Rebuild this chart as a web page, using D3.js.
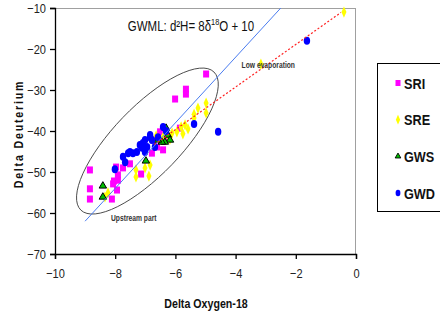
<!DOCTYPE html>
<html>
<head>
<meta charset="utf-8">
<script src="https://cdn.jsdelivr.net/npm/d3@7"></script>
<style>
  body { margin: 0; background: #fff; }
  text { font-family: "Liberation Sans", Arial, sans-serif; }
</style>
</head>
<body>
<div id="chart"></div>
<script>
// data
var sriX = [-8.84, -8.84, -8.84, -8.11, -7.94, -8.07, -8.04, -7.91, -7.91, -7.97, -7.74, -7.51, -7.14,
  -6.78, -6.41, -4.98, -5.65, -5.65, -6.01, -5.85, -6.51, -6.61, -6.38, -6.74];
var sriY = [-49.5, -54.1, -56.6, -56.6, -54.4, -52.9, -52.2, -52.0, -50.7, -48.8, -49.0, -48.0, -50.5,
  -45.4, -44.6, -26.1, -29.8, -31.0, -32.2, -39.3, -40.2, -43.9, -42.4, -42.2];

var sreX = [-0.40, -3.16, -4.98, -5.25, -4.98, -5.38, -5.38, -5.68, -5.81, -5.95, -6.11, -6.25, -6.41,
  -6.64, -7.31, -7.31, -6.84, -6.88, -8.24, -8.34, -7.01, -5.58, -5.75, -6.18];
var sreY = [-11.0, -23.7, -33.2, -34.4, -35.6, -35.9, -36.8, -38.5, -39.0, -40.2, -40.5, -41.0, -41.5,
  -41.2, -49.5, -51.2, -48.3, -51.0, -55.1, -56.1, -49.0, -39.5, -40.7, -42.0];

var gwsX = [-8.41, -8.41, -6.98, -6.31, -6.25, -6.18, -6.35, -6.45, -6.58];
var gwsY = [-53.4, -56.1, -47.3, -39.3, -41.0, -42.2, -42.7, -42.7, -42.2];

var gwdX = [-1.63, -4.58, -5.38, -6.41, -6.31, -6.84, -7.08, -6.94, -7.18, -7.11, -6.78, -6.68, -7.41,
  -7.51, -7.74, -7.67, -8.01, -7.57, -7.28, -7.01, -6.84, -6.58, -7.01];
var gwdY = [-18.0, -40.2, -38.3, -39.0, -40.0, -41.0, -42.9, -43.9, -43.4, -44.1, -42.2, -43.9, -45.4,
  -45.1, -46.3, -47.6, -49.3, -45.4, -45.1, -45.1, -41.5, -41.5, -42.2];

// GWML line ends and low evaporation line ends
var gwmlX = [-9, -2.5];
var gwmlY = [-62, -10];
var evapX = [-6.7, -0.5];
var evapY = [-43.3, -11.1];

// ellipse tips (major axis) for "upstream part"
var ellTipX = [-4.72, -9.14];
var ellTipY = [-25.6, -59.3];

var xTicks = [-10, -8, -6, -4, -2, 0];
var yTicks = [-10, -20, -30, -40, -50, -60, -70];
var seriesNames = ["SRI", "SRE", "GWS", "GWD"];

var svgWidth = 440;
var svgHeight = 311;
var margin = { top: 8, right: 84, bottom: 57, left: 55 };
var width = svgWidth - margin.left - margin.right;
var height = svgHeight - margin.top - margin.bottom;

// the original uses a narrow face, so squeeze the regular one
var squeeze = 0.82;

var svg = d3.select("#chart").append("svg")
  .attr("width", svgWidth)
  .attr("height", svgHeight);

var chartGroup = svg.append("g")
  .attr("transform", `translate(${margin.left}, ${margin.top})`);

function narrowText(parent, px, py, str) {
  return parent.append("g")
    .attr("transform", `translate(${px}, ${py})`)
    .append("text")
    .attr("transform", `scale(${squeeze}, 1)`)
    .text(str);
}

var x = d3.scaleLinear().domain([-10, 0]).range([0, width]);
var y = d3.scaleLinear().domain([-70, -10]).range([height, 0]);

// frame: grey top and right
chartGroup.append("line")
  .attr("x1", 0).attr("x2", width).attr("y1", 0.5).attr("y2", 0.5)
  .attr("stroke", "#a0a0a0");
chartGroup.append("line")
  .attr("x1", width - 0.5).attr("x2", width - 0.5).attr("y1", 0).attr("y2", height)
  .attr("stroke", "#a0a0a0");

var bottomAxis = d3.axisBottom(x).tickValues(xTicks).tickSize(5).tickPadding(9).tickFormat(d3.format("d"));
var leftAxis = d3.axisLeft(y).tickValues(yTicks).tickSize(5).tickPadding(4).tickFormat(d3.format("d"));

var xAxis = chartGroup.append("g")
  .attr("transform", `translate(0, ${height})`)
  .call(bottomAxis);
var yAxis = chartGroup.append("g").call(leftAxis);

[xAxis, yAxis].forEach(function(ax) {
  ax.select(".domain").attr("stroke", "#000").attr("stroke-width", 1.3);
  ax.selectAll(".tick line").attr("stroke", "#000").attr("stroke-width", 1.3);
  ax.selectAll("text")
    .attr("font-size", 13.5)
    .attr("fill", "#222")
    .attr("transform", `scale(${squeeze}, 1)`)
    .style("font-family", '"Liberation Sans", Arial, sans-serif');
});
// the left labels sit at x=-9 before squeezing; keep them 9px off the axis
yAxis.selectAll(".tick text").attr("x", -9 / squeeze);

// ellipse around upstream points
var t1 = [x(ellTipX[0]), y(ellTipY[0])];
var t2 = [x(ellTipX[1]), y(ellTipY[1])];
var ecx = (t1[0] + t2[0]) / 2, ecy = (t1[1] + t2[1]) / 2;
var ea = Math.hypot(t1[0] - t2[0], t1[1] - t2[1]) / 2;
var eAngle = Math.atan2(t1[1] - t2[1], t1[0] - t2[0]) * 180 / Math.PI;
chartGroup.append("ellipse")
  .attr("cx", 0).attr("cy", 0)
  .attr("rx", ea).attr("ry", 34)
  .attr("transform", `translate(${ecx}, ${ecy}) rotate(${eAngle})`)
  .attr("fill", "none")
  .attr("stroke", "#444")
  .attr("stroke-width", 0.9);

// series
function pts(xs, ys) { return xs.map(function(v, i) { return { x: v, y: ys[i] }; }); }

chartGroup.append("g").selectAll("rect")
  .data(pts(sriX, sriY))
  .enter()
  .append("rect")
  .attr("x", d => x(d.x) - 3)
  .attr("y", d => y(d.y) - 3.5)
  .attr("width", 6)
  .attr("height", 7)
  .attr("fill", "#ff00ff");

var diamond = d3.symbol().type(d3.symbolDiamond).size(30);
chartGroup.append("g").selectAll("path")
  .data(pts(sreX, sreY))
  .enter()
  .append("path")
  .attr("d", diamond)
  .attr("transform", d => `translate(${x(d.x)}, ${y(d.y)}) scale(0.85, 1.1)`)
  .attr("fill", "#ffff00");

var tri = d3.symbol().type(d3.symbolTriangle).size(24);
chartGroup.append("g").selectAll("path")
  .data(pts(gwsX, gwsY))
  .enter()
  .append("path")
  .attr("d", tri)
  .attr("transform", d => `translate(${x(d.x)}, ${y(d.y)})`)
  .attr("fill", "#00c000")
  .attr("stroke", "#000")
  .attr("stroke-width", 1);

chartGroup.append("g").selectAll("ellipse")
  .data(pts(gwdX, gwdY))
  .enter()
  .append("ellipse")
  .attr("cx", d => x(d.x))
  .attr("cy", d => y(d.y))
  .attr("rx", 3.2)
  .attr("ry", 4)
  .attr("fill", "#0000ff");

// lines
var line = d3.line().x(d => x(d.x)).y(d => y(d.y));
chartGroup.append("path")
  .datum(pts(gwmlX, gwmlY))
  .attr("d", line)
  .attr("fill", "none")
  .attr("stroke", "#4a7cf0")
  .attr("stroke-width", 1);
chartGroup.append("path")
  .datum(pts(evapX, evapY))
  .attr("d", line)
  .attr("fill", "none")
  .attr("stroke", "#ff2020")
  .attr("stroke-width", 1.2)
  .attr("stroke-dasharray", "2,2");

// annotations
var eq = narrowText(chartGroup, x(-7.58), y(-15.6), "")
  .attr("font-size", 14)
  .attr("fill", "#111");
eq.append("tspan").text("GWML: d²H= 8δ");
eq.append("tspan").attr("dy", -6).attr("font-size", 9).text("18");
eq.append("tspan").attr("dy", 6).text("O + 10");

narrowText(chartGroup, x(-3.8), y(-24.7), "Low evaporation")
  .attr("font-size", 8.2)
  .attr("font-weight", "bold")
  .attr("fill", "#333");

narrowText(chartGroup, x(-8.14), y(-61.9), "Upstream part")
  .attr("font-size", 8.2)
  .attr("font-weight", "bold")
  .attr("fill", "#333");

// axis titles
narrowText(svg, 206, 308, "Delta Oxygen-18")
  .attr("text-anchor", "middle")
  .attr("font-size", 13)
  .attr("font-weight", "bold")
  .attr("fill", "#111");

svg.append("g")
  .attr("transform", "translate(23, 134) rotate(-90)")
  .append("text")
  .attr("transform", `scale(${squeeze}, 1)`)
  .attr("text-anchor", "middle")
  .attr("font-size", 13)
  .attr("font-weight", "bold")
  .attr("letter-spacing", 2.2)
  .attr("fill", "#111")
  .text("Delta Deuterium");

// legend
var legend = svg.append("g");
legend.append("rect")
  .attr("x", 377.5).attr("y", 63.5)
  .attr("width", 80).attr("height", 148)
  .attr("fill", "#fff")
  .attr("stroke", "#000")
  .attr("stroke-width", 1);

var legendY = d3.scalePoint().domain(seriesNames).range([83, 193]);
var items = legend.selectAll("g.item")
  .data(seriesNames)
  .enter()
  .append("g")
  .attr("transform", d => `translate(398, ${legendY(d)})`);

items.each(function(name) {
  var g = d3.select(this);
  if (name === "SRI") {
    g.append("rect").attr("x", -2.5).attr("y", -3).attr("width", 5).attr("height", 6).attr("fill", "#ff00ff");
  } else if (name === "SRE") {
    g.append("path").attr("d", d3.symbol().type(d3.symbolDiamond).size(22)).attr("transform", "scale(0.85,1.1)").attr("fill", "#ffff00");
  } else if (name === "GWS") {
    g.append("path").attr("d", d3.symbol().type(d3.symbolTriangle).size(14)).attr("fill", "#00c000").attr("stroke", "#000").attr("stroke-width", 0.9);
  } else {
    g.append("ellipse").attr("rx", 2.4).attr("ry", 3.2).attr("fill", "#0000ff");
  }
});

items.each(function(name) {
  narrowText(d3.select(this), 6, 5.5, name)
    .attr("font-size", 15.5)
    .attr("font-weight", "bold")
    .attr("fill", "#111");
});
</script>
</body>
</html>
